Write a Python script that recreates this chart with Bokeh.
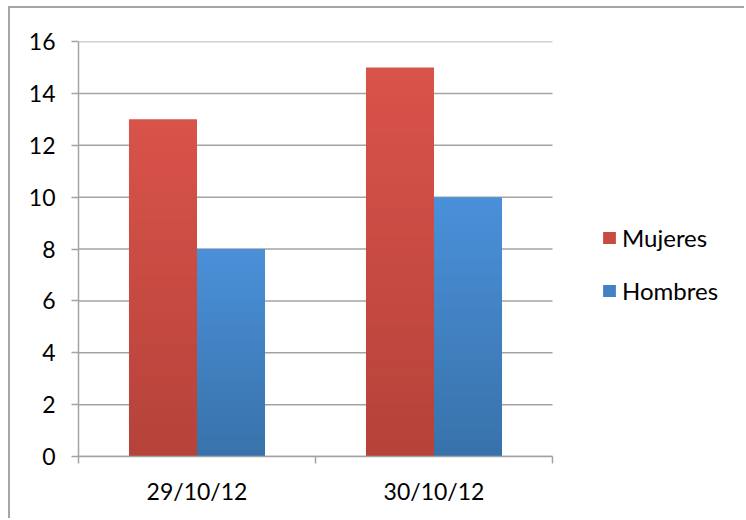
from bokeh.plotting import figure
from bokeh.models import ColumnDataSource, Range1d, FixedTicker, Legend, LegendItem
from bokeh.embed import file_html
from bokeh.resources import INLINE

categories = ["29/10/12", "30/10/12"]
series_names = ["Mujeres", "Hombres"]
mujeres = [13, 15]
hombres = [8, 10]
y_ticks = [0, 2, 4, 6, 8, 10, 12, 14, 16]

# style: gradient top -> bottom colours per series
grad = {
    "Mujeres": ((217, 83, 74), (181, 66, 58)),
    "Hombres": ((74, 144, 217), (56, 114, 170)),
}
FONT = "Lato"
GRID = "#A3A3A3"

W, H = 736, 512
BL, BT, BB, BR = 68, 33, 64, 0
frame_w = W - BL - BR
cat_px = 474  # pixel width occupied by the categories
n = len(categories)

p = figure(width=W, height=H, output_backend="svg", toolbar_location=None,
           x_range=Range1d(0, n * frame_w / cat_px), y_range=Range1d(0, 16),
           min_border_left=BL, min_border_right=BR, min_border_top=BT,
           min_border_bottom=BB)
p.margin = (6, 0, 0, 8)
p.outline_line_color = None
p.styles = {"border-left": "2px solid #A6A6A6", "border-top": "2px solid #A6A6A6"}

# horizontal gridlines, limited to the category area
p.segment(x0=[0] * len(y_ticks), x1=[n] * len(y_ticks), y0=y_ticks, y1=y_ticks,
          line_color=GRID, line_width=1.5)

bar_w = 0.287
offsets = [-bar_w / 2, bar_w / 2]
N = 30
renderers = []
for s, (name, vals) in enumerate(zip(series_names, [mujeres, hombres])):
    top_c, bot_c = grad[name]
    xs, tops, bots, cols = [], [], [], []
    for i, v in enumerate(vals):
        for k in range(N):
            f0 = k / N
            f1 = min((k + 1.6) / N, 1.0)
            t = 1 - (k + 0.5) / N  # 0 at top, 1 at bottom
            c = tuple(int(round(top_c[j] + (bot_c[j] - top_c[j]) * t)) for j in range(3))
            xs.append(i + 0.5 + offsets[s])
            bots.append(v * f0)
            tops.append(v * f1)
            cols.append("#%02x%02x%02x" % c)
    src = ColumnDataSource(dict(x=xs, top=tops, bottom=bots, color=cols))
    r = p.vbar(x="x", top="top", bottom="bottom", width=bar_w, fill_color="color",
               line_color=None, source=src)
    renderers.append((name, r, N // 2))

# axes
p.yaxis.ticker = FixedTicker(ticks=y_ticks)
p.yaxis.axis_line_color = GRID
p.yaxis.axis_line_width = 1.5
p.yaxis.major_tick_line_color = GRID
p.yaxis.major_tick_line_width = 1.5
p.yaxis.major_tick_out = 7
p.yaxis.major_tick_in = 0
p.yaxis.minor_tick_line_color = None
p.yaxis.major_label_text_font = FONT
p.yaxis.major_label_text_font_size = "23px"
p.yaxis.major_label_text_color = "#000000"
p.yaxis.major_label_standoff = 16

p.xaxis.bounds = (0, n)
p.xaxis.ticker = FixedTicker(ticks=[i + 0.5 for i in range(n)],
                             minor_ticks=list(range(n + 1)))
p.xaxis.major_label_overrides = {i + 0.5: c for i, c in enumerate(categories)}
p.xaxis.axis_line_color = GRID
p.xaxis.axis_line_width = 1.5
p.xaxis.major_tick_line_color = None
p.xaxis.minor_tick_line_color = GRID
p.xaxis.minor_tick_line_width = 1.5
p.xaxis.minor_tick_out = 7
p.xaxis.minor_tick_in = 0
p.xaxis.major_label_text_font = FONT
p.xaxis.major_label_text_font_size = "23px"
p.xaxis.major_label_text_color = "#000000"
p.xaxis.major_label_standoff = 13

p.xgrid.grid_line_color = None
p.ygrid.grid_line_color = None

items = [LegendItem(label=name, renderers=[r], index=idx) for name, r, idx in renderers]
legend = Legend(items=items, location=(523, 151), orientation="vertical")
legend.border_line_color = None
legend.background_fill_alpha = 0
legend.padding = 0
legend.margin = 0
legend.glyph_width = 16
legend.glyph_height = 15
legend.label_height = 24
legend.spacing = 24
legend.label_standoff = 5
legend.label_text_font = FONT
legend.label_text_font_size = "24px"
legend.label_text_color = "#000000"
p.add_layout(legend, "center")

open("out.html", "w").write(file_html(p, INLINE))
